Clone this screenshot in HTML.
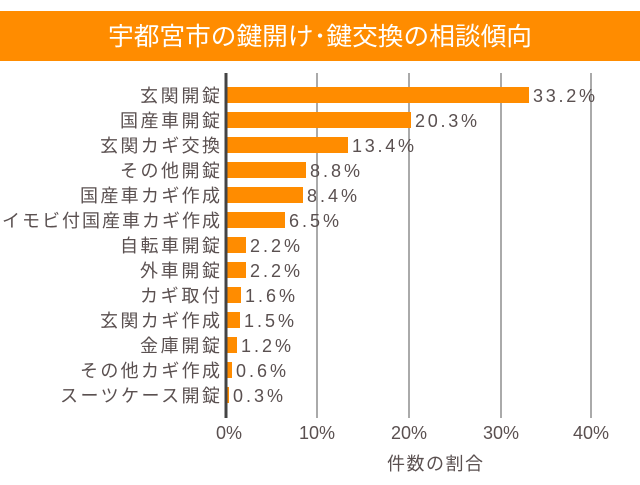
<!DOCTYPE html>
<html><head><meta charset="utf-8"><style>
body{margin:0;background:#fff;width:640px;height:480px;overflow:hidden}
text{font-family:"Liberation Sans","Noto Sans CJK JP",sans-serif;fill:#5a5050}
</style></head><body>
<svg width="640" height="480" xmlns="http://www.w3.org/2000/svg">
<rect x="0" y="11" width="640" height="50" fill="#ff8c00"/>
<text x="320" y="45" text-anchor="middle" font-size="25" style="fill:#fff" textLength="424" lengthAdjust="spacingAndGlyphs">宇都宮市の鍵開け･鍵交換の相談傾向</text>
<g stroke="#aaa" stroke-width="2">
<line x1="317" y1="73" x2="317" y2="418"/>
<line x1="409" y1="73" x2="409" y2="418"/>
<line x1="501" y1="73" x2="501" y2="418"/>
<line x1="591" y1="73" x2="591" y2="418"/>
</g>
<g fill="#ff8c00">
<rect x="226" y="87" width="303" height="16"/>
<rect x="226" y="112" width="185" height="16"/>
<rect x="226" y="137" width="122" height="16"/>
<rect x="226" y="162" width="80" height="16"/>
<rect x="226" y="187" width="77" height="16"/>
<rect x="226" y="212" width="59" height="16"/>
<rect x="226" y="237" width="20" height="16"/>
<rect x="226" y="262" width="20" height="16"/>
<rect x="226" y="287" width="15" height="16"/>
<rect x="226" y="312" width="14" height="16"/>
<rect x="226" y="337" width="11" height="16"/>
<rect x="226" y="362" width="6" height="16"/>
<rect x="226" y="387" width="3" height="16"/>
</g>
<line x1="226" y1="73" x2="226" y2="418" stroke="#444" stroke-width="3"/>
<g font-size="18" text-anchor="end">
<text x="220" y="102" textLength="80">玄関開錠</text>
<text x="220" y="127" textLength="100">国産車開錠</text>
<text x="220" y="152" textLength="120">玄関カギ交換</text>
<text x="220" y="177" textLength="100">その他開錠</text>
<text x="220" y="202" textLength="140">国産車カギ作成</text>
<text x="220" y="227" textLength="218">イモビ付国産車カギ作成</text>
<text x="220" y="252" textLength="100">自転車開錠</text>
<text x="220" y="277" textLength="80">外車開錠</text>
<text x="220" y="302" textLength="80">カギ取付</text>
<text x="220" y="327" textLength="120">玄関カギ作成</text>
<text x="220" y="352" textLength="80">金庫開錠</text>
<text x="220" y="377" textLength="140">その他カギ作成</text>
<text x="220" y="402" textLength="160">スーツケース開錠</text>
</g>
<g font-size="18">
<text x="533" y="102" textLength="62">33.2%</text>
<text x="415" y="127" textLength="62">20.3%</text>
<text x="352" y="152" textLength="62">13.4%</text>
<text x="310" y="177" textLength="50">8.8%</text>
<text x="307" y="202" textLength="50">8.4%</text>
<text x="289" y="227" textLength="50">6.5%</text>
<text x="250" y="252" textLength="50">2.2%</text>
<text x="250" y="277" textLength="50">2.2%</text>
<text x="245" y="302" textLength="50">1.6%</text>
<text x="244" y="327" textLength="50">1.5%</text>
<text x="241" y="352" textLength="50">1.2%</text>
<text x="236" y="377" textLength="50">0.6%</text>
<text x="233" y="402" textLength="50">0.3%</text>
</g>
<g font-size="18" text-anchor="middle">
<text x="229" y="439">0%</text>
<text x="317" y="439">10%</text>
<text x="409" y="439">20%</text>
<text x="501" y="439">30%</text>
<text x="591" y="439">40%</text>
<text x="435" y="470" textLength="96">件数の割合</text>
</g>
</svg>
</body></html>
